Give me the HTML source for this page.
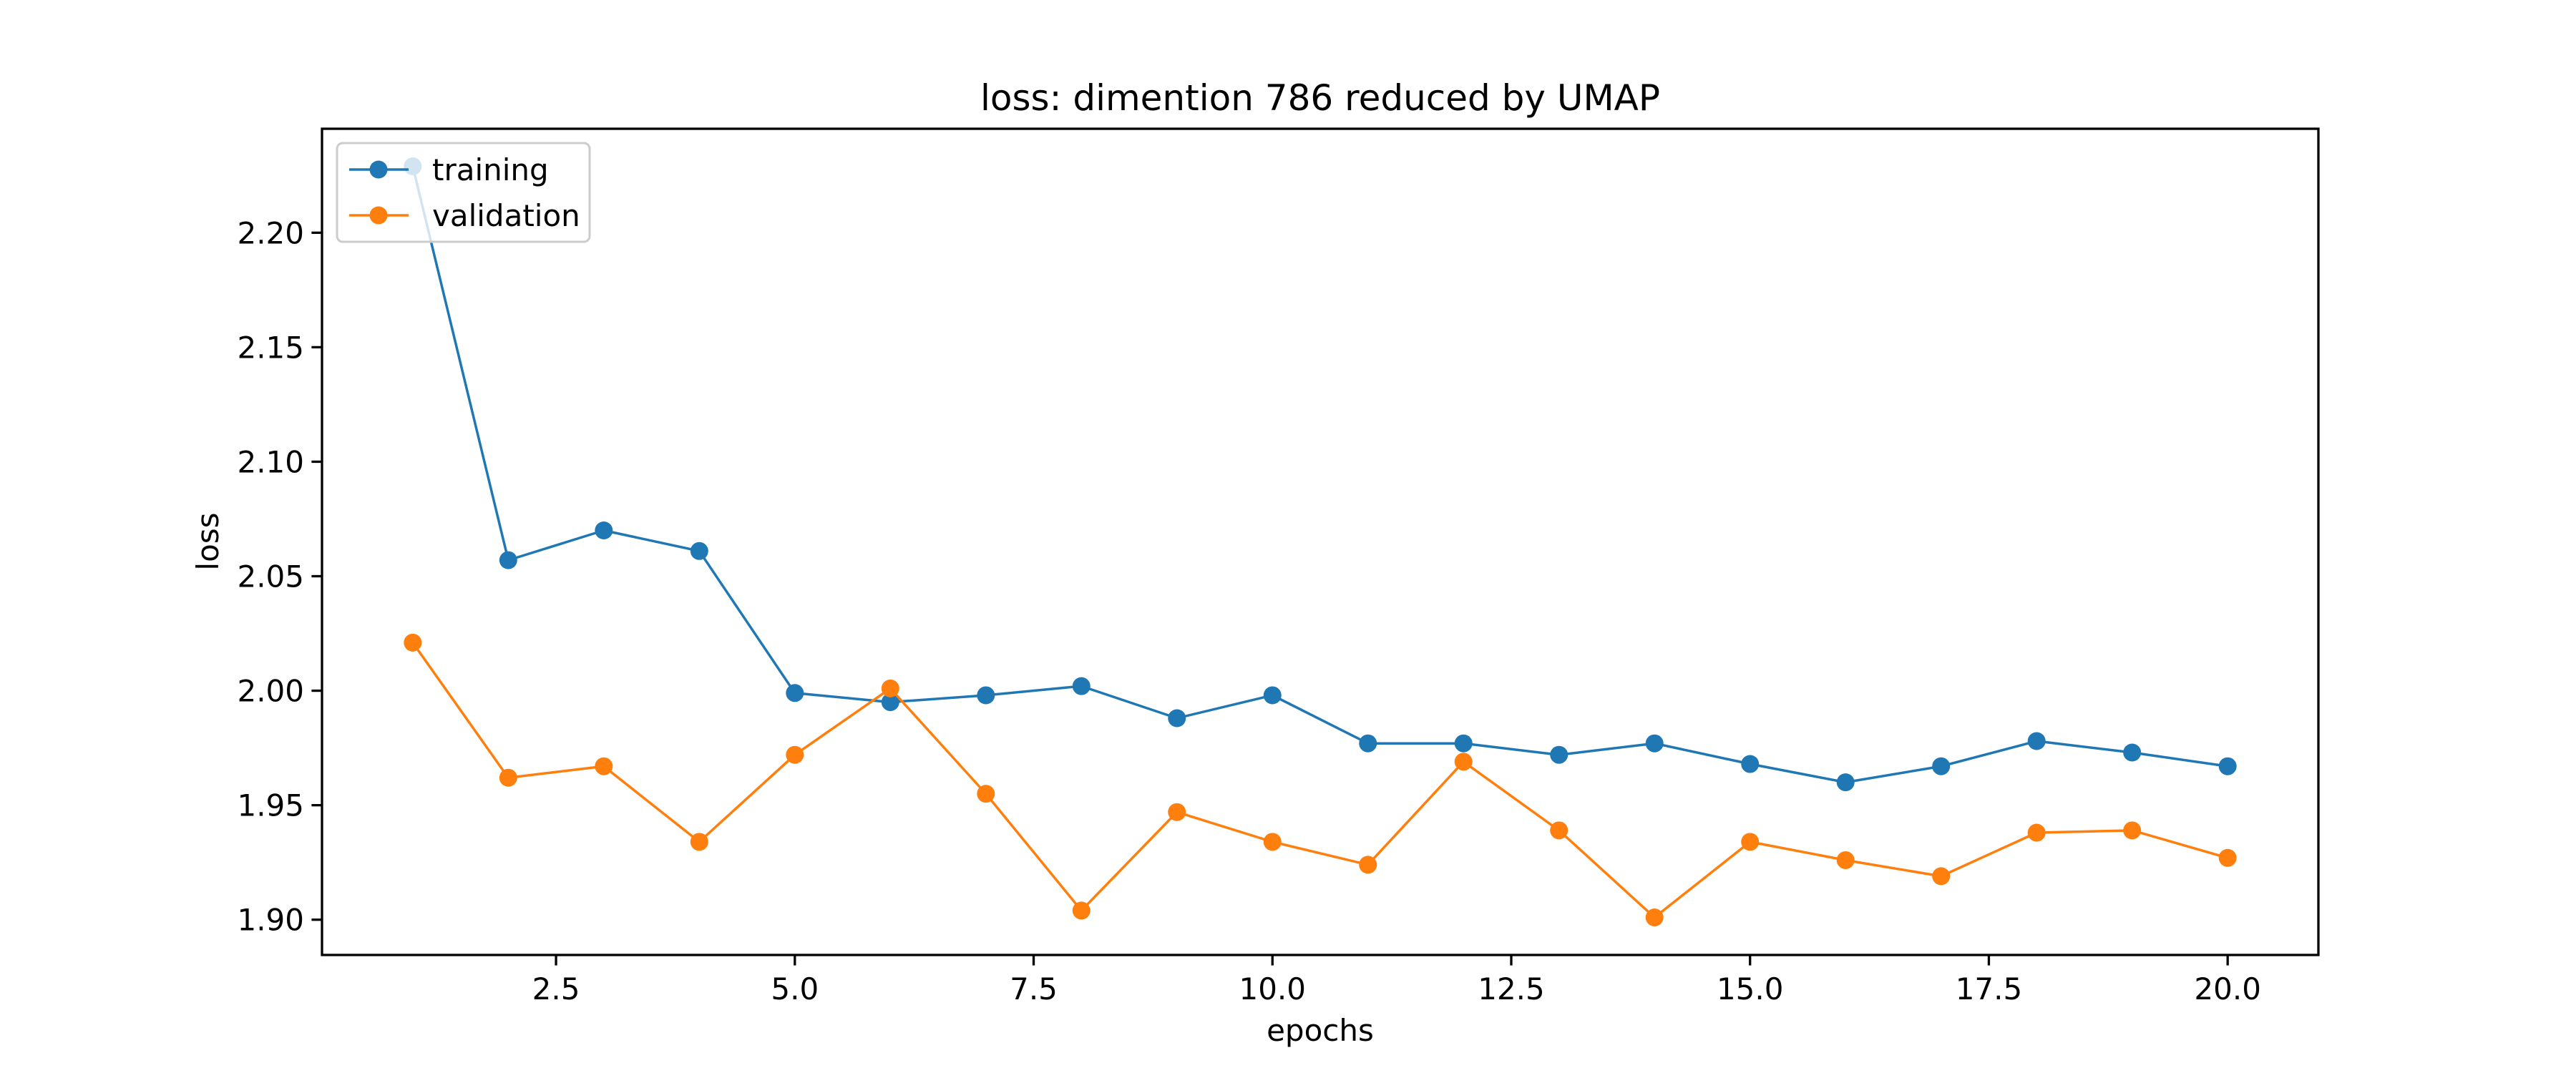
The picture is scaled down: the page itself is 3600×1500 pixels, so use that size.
<!DOCTYPE html>
<html><head><meta charset="utf-8"><style>
html,body{margin:0;padding:0;background:#fff;}
svg{display:block;font-family:"DejaVu Sans","Liberation Sans",sans-serif;}
</style></head><body>
<svg id="chart" width="3600" height="1500" viewBox="0 0 3600 1500">
<rect x="0" y="0" width="3600" height="1500" fill="#fff"/>
<text x="1845" y="154" font-size="50" text-anchor="middle">loss: dimention 786 reduced by UMAP</text>
<g id="plot"></g>
<text x="1845" y="1455" font-size="42" text-anchor="middle">epochs</text>
<text x="0" y="0" font-size="42" text-anchor="middle" transform="translate(305,757) rotate(-90)">loss</text>
</svg>
<script>
const epochs=[1,2,3,4,5,6,7,8,9,10,11,12,13,14,15,16,17,18,19,20];
const training=[2.229,2.057,2.070,2.061,1.999,1.995,1.998,2.002,1.988,1.998,1.977,1.977,1.972,1.977,1.968,1.960,1.967,1.978,1.973,1.967];
const validation=[2.021,1.962,1.967,1.934,1.972,2.001,1.955,1.904,1.947,1.934,1.924,1.969,1.939,1.901,1.934,1.926,1.919,1.938,1.939,1.927];
const xTicks=[2.5,5.0,7.5,10.0,12.5,15.0,17.5,20.0];
const yTicks=[1.90,1.95,2.00,2.05,2.10,2.15,2.20];
const seriesNames=["training","validation"];

const L=450,R=3240,T=180,B=1335;
const all=training.concat(validation);
const ymin=Math.min(...all),ymax=Math.max(...all),yr=ymax-ymin;
const y0=ymin-0.05*yr,y1=ymax+0.05*yr;
const xmin=Math.min(...epochs),xmax=Math.max(...epochs),xr=xmax-xmin;
const x0=xmin-0.05*xr,x1=xmax+0.05*xr;
const sx=v=>L+(v-x0)/(x1-x0)*(R-L);
const sy=v=>B-(v-y0)/(y1-y0)*(B-T);
const NS="http://www.w3.org/2000/svg";
const g=document.getElementById('plot');
function mk(t,a,p){const e=document.createElementNS(NS,t);for(const k in a)e.setAttribute(k,a[k]);(p||g).appendChild(e);return e;}

xTicks.forEach(v=>{
  const x=sx(v);
  const tk=mk('line',{x1:x,x2:x,y1:B,y2:B+14.6,stroke:'#000','stroke-width':3.3});
  
  
  const t=mk('text',{x:x,y:B+62,'font-size':42,'text-anchor':'middle'});
  t.textContent=v.toFixed(1);
  
  
});
yTicks.forEach(v=>{
  const y=sy(v);
  const tk=mk('line',{x1:L-14.6,x2:L,y1:y,y2:y,stroke:'#000','stroke-width':3.3});
  
  
  const t=mk('text',{x:L-25,y:y+15,'font-size':42,'text-anchor':'end'});
  t.textContent=v.toFixed(2);
  
  
});

const colors=['#1f77b4','#ff7f0e'];
[training,validation].forEach((s,i)=>{
  const pts=s.map((v,j)=>sx(epochs[j])+','+sy(v)).join(' ');
  const pl=mk('polyline',{points:pts,fill:'none',stroke:colors[i],'stroke-width':3.5,'stroke-linejoin':'round'});
  
  
  s.forEach((v,j)=>{
    const c=mk('circle',{cx:sx(epochs[j]),cy:sy(v),r:12.5,fill:colors[i]});
    
    
  });
});

const frame=mk('rect',{x:L,y:T,width:R-L,height:B-T,fill:'none',stroke:'#000','stroke-width':3.3});



const lg=mk('g',{});


mk('rect',{x:471,y:200,width:353,height:138,rx:8,fill:'#fff','fill-opacity':0.8,stroke:'#ccc','stroke-width':3},lg);
seriesNames.forEach((n,i)=>{
  const y=237+i*64;
  const ln=mk('line',{x1:488,x2:571,y1:y,y2:y,stroke:colors[i],'stroke-width':3.5},lg);
  
  
  mk('circle',{cx:529,cy:y,r:12.5,fill:colors[i]},lg);
  const t=mk('text',{x:604,y:y+15,'font-size':42},lg);
  t.textContent=n;
  
  
});
</script>
</body></html>
